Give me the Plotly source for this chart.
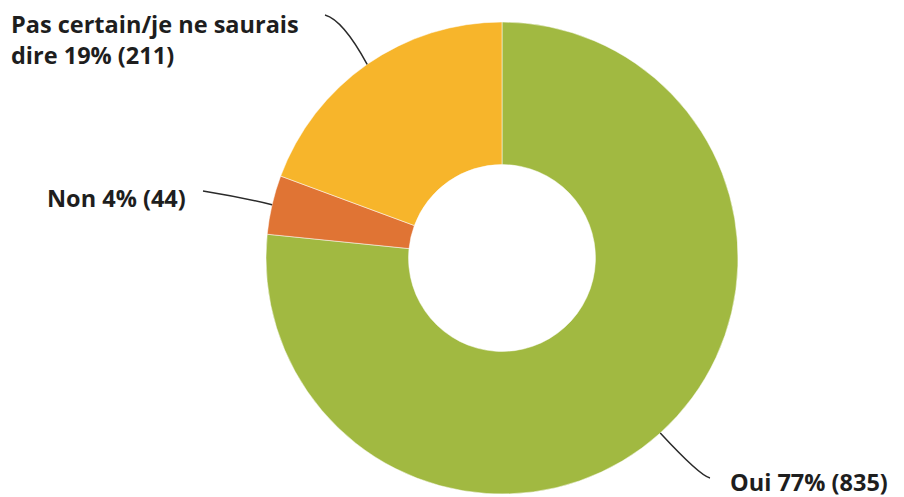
import math
import plotly.graph_objects as go

labels = ["Oui", "Non", "Pas certain/je ne saurais dire"]
counts = [835, 44, 211]
pcts = ["77%", "4%", "19%"]
colors = ["#a1b941", "#e07434", "#f7b52b"]
label_texts = ["Oui 77% (835)", "Non 4% (44)", "Pas certain/je ne saurais<br>dire 19% (211)"]

# page has an 8px body margin; figure is sized to fit the 904x497 window
OFF = 8
W, H = 904 - OFF, 497 - OFF
CX, CY, R = 502, 258, 236  # pie center/radius in window px

def px(x, y):
    return (x - OFF) / W, 1 - (y - OFF) / H

x0, y0 = px(CX - R, CY + R)
x1, y1 = px(CX + R, CY - R)

fig = go.Figure(go.Pie(
    labels=labels, values=counts, sort=False, direction="clockwise", rotation=0,
    hole=0.396, marker=dict(colors=colors, line=dict(color="white", width=0.5)),
    textinfo="none", hoverinfo="label+value+percent", showlegend=False,
    domain=dict(x=[x0, x1], y=[y0, y1]),
))

# slice mid angles -> anchor points on outer edge
total = sum(counts)
cum = 0
anchors = []
for c in counts:
    mid = (cum + c / 2) / total
    cum += c
    a = 2 * math.pi * mid
    anchors.append((CX + R * math.sin(a), CY - R * math.cos(a)))

# leader line (control point, end point) and label placement in window px
leaders = [
    ((700, 476), (710, 478)),
    ((240, 197), (203, 191)),
    ((343, 20), (325, 15)),
]
label_pos = [
    (728, 482, "left", "middle"),
    (188, 198, "right", "middle"),
    (9, 40, "left", "middle"),
]

shapes = []
for (sx, sy), ((qx, qy), (ex, ey)) in zip(anchors, leaders):
    p0 = px(sx, sy); q = px(qx, qy); p1 = px(ex, ey)
    shapes.append(dict(
        type="path", xref="paper", yref="paper",
        path=f"M {p0[0]} {p0[1]} Q {q[0]} {q[1]} {p1[0]} {p1[1]}",
        line=dict(color="#2a2a2a", width=1.5),
    ))

annotations = []
for t, (x, y, xa, ya) in zip(label_texts, label_pos):
    xp, yp = px(x, y)
    annotations.append(dict(
        x=xp, y=yp, xref="paper", yref="paper", text=t, showarrow=False,
        xanchor=xa, yanchor=ya, align="left",
        font=dict(family="Open Sans", size=23.5, color="#1e1e1e", weight="bold"),
    ))

fig.update_layout(
    width=W, height=H, margin=dict(l=0, r=0, t=0, b=0),
    paper_bgcolor="white", plot_bgcolor="white",
    shapes=shapes, annotations=annotations,
)
fig.write_html("out.html")
